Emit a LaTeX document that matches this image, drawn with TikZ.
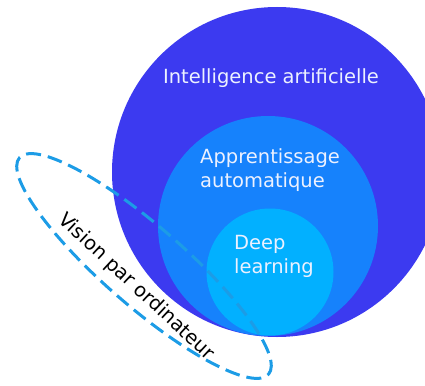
\documentclass[tikz,border=0pt]{standalone}
\usepackage{fontspec}
\setmainfont{DejaVu Sans}
\usetikzlibrary{positioning, shapes.geometric}
\definecolor{iaBlue}{RGB}{60,58,240}
\definecolor{mlBlue}{RGB}{22,130,252}
\definecolor{dlBlue}{RGB}{2,176,255}
\definecolor{cvBlue}{RGB}{28,156,230}
\definecolor{labelWhite}{RGB}{236,241,255}
\tikzset{
  field/.style={circle, inner sep=0pt, draw=none},
  fieldlabel/.style={text=labelWhite, font=\fontsize{19.5}{24}\selectfont, align=left, inner sep=0pt},
  dashring/.style={ellipse, draw=cvBlue, line width=3pt, dash pattern=on 15pt off 7pt, inner sep=0pt},
}

\begin{document}
\begin{tikzpicture}[x=1pt, y=-1pt]
    \useasboundingbox (0,0) rectangle (425,385);
    % nested fields
    \node[field, fill=iaBlue, minimum size=330pt] (ia) at (277,172) {};
    \node[field, fill=mlBlue, minimum size=220pt] (ml) at (268,226) {};
    \node[field, fill=dlBlue, minimum size=127pt] (dl) at (270,272) {};
    \node[fieldlabel] (iaText) at (271,78) {Intelligence artificielle};
    \node[fieldlabel, anchor=west] (mlText) at (200,170) {Apprentissage\\automatique};
    \node[fieldlabel, anchor=west] (dlText) at (234,256) {Deep\\learning};
    % computer vision
    \node[dashring, minimum width=330pt, minimum height=80pt, rotate=-41] (cv) at (144,266) {};
    \node[font=\fontsize{19.5}{22}\selectfont, rotate=-43, inner sep=0pt] (cvText) at (136,287) {Vision par ordinateur};
\end{tikzpicture}
\end{document}
